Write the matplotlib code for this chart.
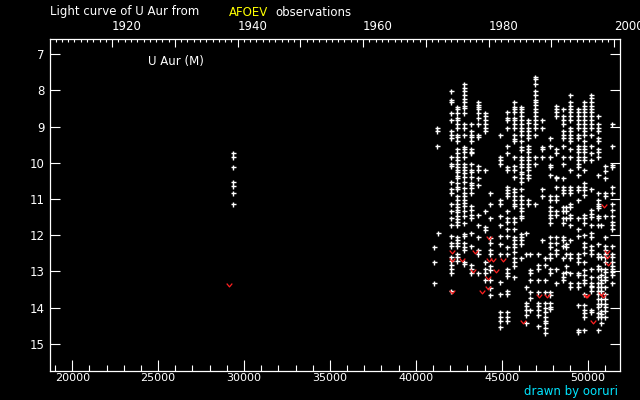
import matplotlib
matplotlib.use("Agg")
import matplotlib.pyplot as plt
from matplotlib.path import Path
from matplotlib.ticker import FixedLocator, NullFormatter

# visual estimates, JD - 2400000 : magnitudes
obs_29330 = [9.74, 9.85, 10.12, 10.54, 10.65, 10.84, 11.14]
obs_41057 = [12.33, 12.75, 13.33]
obs_41231 = [9.05, 9.12, 9.53]
obs_41290 = [11.95]
obs_42075 = [8.02, 8.26, 8.33, 8.63, 8.81, 9.12, 9.23, 9.31, 9.85, 10.04, 10.10, 10.54, 10.72, 10.84,
             11.14, 11.32, 11.52, 11.72, 12.03, 12.22, 12.31, 12.61, 12.72, 12.82, 12.94, 13.05, 13.53]
obs_42424 = [8.45, 8.51, 8.63, 8.75, 8.81, 8.92, 9.04, 9.23, 9.28, 9.41, 9.62, 9.73, 9.85, 9.92, 10.04,
             10.12, 10.2, 10.24, 10.36, 10.43, 10.55, 10.67, 10.73, 10.93, 11.02, 11.14, 11.21, 11.30,
             11.37, 11.46, 11.55, 11.64, 11.71, 12.04, 12.13, 12.22, 12.31, 12.52, 12.61, 12.72]
obs_42803 = [7.83, 7.94, 8.01, 8.12, 8.24, 8.33, 8.42, 8.49, 8.63, 8.92, 9.04, 9.23, 9.57, 9.62, 9.69,
             9.85, 10.04, 10.12, 10.2, 10.29, 10.38, 10.52, 10.70, 10.82, 10.93, 11.02, 11.10, 11.18,
             11.34, 11.46, 11.65, 11.96, 12.03, 12.22, 12.33, 12.42, 12.73, 12.79]
obs_43210 = [8.92, 9.12, 9.23, 9.30, 9.41, 9.62, 9.69, 9.73, 10.04, 10.2, 10.24, 10.38, 10.55, 10.61,
             10.70, 10.84, 11.18, 11.30, 11.44, 11.53, 11.95, 12.31, 12.82, 12.94, 13.05]
obs_43617 = [8.33, 8.40, 8.47, 8.52, 8.63, 8.75, 8.92, 9.23, 9.30, 10.10, 10.2, 10.41, 10.61, 11.44,
             11.72, 12.04, 12.42, 12.52, 13.05]
obs_43996 = [8.63, 8.72, 8.81, 8.92, 9.04, 9.12, 10.2, 11.32, 11.76, 11.85, 12.73, 12.93, 13.04, 13.23]
obs_44345 = [10.82, 11.14, 11.52, 12.08, 12.22, 12.41, 12.52, 12.85, 12.96, 13.23, 13.46, 13.65]
obs_44869 = [9.23, 9.85, 9.92, 10.04, 11.02, 11.14, 11.46, 11.72, 12.03, 12.24, 12.52, 13.28, 13.62,
             14.13, 14.25, 14.36, 14.54]
obs_45305 = [8.61, 8.75, 8.81, 9.04, 9.53, 9.73, 10.12, 10.2, 10.66, 10.75, 10.84, 10.93, 11.34, 11.52,
             11.64, 11.83, 12.03, 12.33, 12.52, 12.93, 13.04, 13.12, 13.55, 13.62, 14.13, 14.25, 14.36]
obs_45713 = [8.33, 8.45, 8.52, 8.61, 8.75, 8.83, 8.92, 9.04, 9.23, 9.35, 9.41, 9.85, 10.10, 10.2, 10.38,
             10.73, 10.80, 10.93, 11.02, 11.14, 11.18, 11.52, 11.64, 11.83, 12.04, 12.13, 12.24, 12.33,
             12.45, 12.63, 12.75, 12.84, 13.14]
obs_46120 = [8.45, 8.52, 8.61, 8.72, 8.81, 8.92, 9.04, 9.12, 9.23, 9.41, 9.55, 9.64, 9.85, 9.92, 10.04,
             10.12, 10.24, 10.31, 10.41, 10.52, 10.73, 10.93, 11.02, 11.14, 11.24, 11.34, 11.46, 11.52,
             11.96, 12.04, 12.13, 12.24, 12.64]
obs_46410 = [11.95, 12.52, 13.44, 13.88, 13.95, 14.06, 14.20, 14.43]
obs_46528 = [8.81, 8.90, 9.04, 9.12, 9.23, 9.32, 9.53, 9.62, 9.69, 9.85, 9.92, 10.04, 10.12, 10.2,
             10.34, 10.43, 11.02, 11.14]
obs_46650 = [12.52, 12.96, 13.03, 13.23, 13.56, 13.74, 14.06]
obs_46935 = [7.62, 7.69, 7.83, 8.01, 8.12, 8.26, 8.33, 8.40, 8.52, 8.61, 8.72, 8.81, 8.92, 9.04, 9.23,
             9.85, 10.04, 11.14]
obs_47110 = [12.52, 12.82, 12.94, 13.23, 13.56, 13.88, 13.95, 14.06, 14.20, 14.52]
obs_47342 = [8.81, 9.04, 9.55, 9.62, 9.85, 10.73, 10.93, 12.13]
obs_47520 = [12.64, 12.82, 13.23, 13.56, 13.88, 14.02, 14.11, 14.27, 14.36, 14.43, 14.57, 14.69]
obs_47779 = [9.32, 9.53, 9.85, 10.06, 10.12, 10.34, 10.93, 11.02, 11.21, 11.32, 11.44, 11.53, 11.65,
             12.04, 12.22, 12.33, 12.52, 12.64, 12.94, 13.03, 13.56, 13.65, 13.88, 13.97, 14.04]
obs_48186 = [8.44, 8.52, 8.61, 8.72, 9.62, 9.73, 10.38, 10.43, 10.66, 10.93, 11.02, 11.32, 11.44, 12.04,
             12.22, 12.42, 12.52, 12.94, 13.33]
obs_48593 = [8.52, 8.72, 8.81, 8.92, 9.12, 9.23, 9.32, 9.53, 9.85, 10.04, 10.43, 10.66, 10.75, 10.84,
             11.21, 11.32, 11.53, 11.65, 12.04, 12.13, 12.31, 12.64, 13.03, 13.14, 13.23]
obs_48735 = [11.23, 11.34, 11.52, 12.24, 12.33, 12.52, 12.84, 13.02]
obs_49000 = [8.12, 8.33, 8.44, 8.52, 8.61, 8.72, 8.81, 9.04, 9.13, 9.23, 9.32, 9.41, 9.62, 9.85, 10.2,
             10.66, 10.75, 10.84, 11.14, 11.23, 11.44, 11.52, 11.71, 12.13, 12.52, 12.63, 13.03, 13.33,
             13.44]
obs_49437 = [8.52, 8.61, 8.72, 8.81, 8.92, 9.04, 9.23, 9.32, 9.53, 9.62, 9.69, 9.85, 9.92, 10.04, 10.12,
             10.34, 10.66, 10.75, 11.02, 11.52, 11.83, 12.03, 12.52, 12.64, 12.75, 13.05, 13.11, 13.33,
             13.44, 13.92, 14.63, 14.66]
obs_49815 = [8.33, 8.44, 8.52, 8.61, 8.72, 8.81, 8.92, 9.04, 9.12, 9.23, 9.41, 9.53, 9.62, 9.69, 9.85,
             9.92, 10.2, 10.55, 10.66, 10.75, 10.88, 11.44, 11.53, 11.65, 11.99, 12.22, 12.33, 12.50,
             12.73, 12.96, 13.11, 13.23, 13.32, 13.62, 13.94, 14.06, 14.15, 14.25, 14.63]
obs_50194 = [8.12, 8.22, 8.33, 8.44, 8.52, 8.61, 8.72, 8.81, 8.92, 9.04, 9.23, 9.53, 9.73, 9.92, 10.73,
             11.30, 11.41, 11.50, 11.71, 11.95, 12.04, 12.31, 12.42, 12.53, 12.93, 13.14, 13.33, 13.39,
             13.44, 13.55, 14.06, 14.13]
obs_50601 = [8.72, 8.92, 9.04, 9.12, 9.32, 9.41, 9.62, 9.69, 9.85, 10.34, 10.84, 11.02, 11.14, 11.18,
             11.25, 11.46, 11.52, 11.71, 12.24, 12.52, 12.61, 12.84, 12.93, 13.14, 13.33, 13.44, 13.55,
             13.62, 13.76, 13.90, 13.97, 14.15, 14.27, 14.63]
obs_50790 = [11.71, 12.61, 12.93, 13.11, 13.23, 13.33, 13.44, 13.55, 13.76, 13.90, 14.08, 14.17, 14.25,
             14.43]
obs_51009 = [10.10, 10.22, 10.43, 10.84, 10.93, 11.46, 12.04, 12.31, 12.42, 12.52, 12.61, 12.75, 12.93,
             13.02, 13.14, 13.25, 13.44, 13.62, 13.76, 13.90, 13.97, 14.08, 14.25]
obs_51416 = [8.92, 9.53, 10.06, 10.12, 10.66, 10.84, 11.14, 11.30, 11.46, 11.64, 11.71, 11.83, 12.31,
             12.52, 12.61, 12.75, 12.84, 12.93, 13.02, 13.11, 13.33]

# "fainter than" estimates
limit_jd = [29143, 42087, 42087, 42087, 42669, 43443, 43344, 44258, 44258, 44508, 45055, 44665,
            44183, 43869, 44218, 46254, 47168, 47616, 49944, 50328, 50875, 51108, 51143, 51160, 50968,
            50790, 49880]
limit_mag = [13.37, 12.45, 12.68, 13.56, 12.68, 12.45, 12.99, 12.08, 12.68, 12.68, 12.68, 12.99,
             13.19, 13.56, 13.46, 14.39, 13.67, 13.67, 13.67, 14.39, 13.67, 12.45, 12.59, 12.79, 11.18,
             13.62, 13.67]

seasons = {29330: obs_29330, 41057: obs_41057, 41231: obs_41231, 41290: obs_41290,
           42075: obs_42075, 42424: obs_42424, 42803: obs_42803, 43210: obs_43210,
           43617: obs_43617, 43996: obs_43996, 44345: obs_44345, 44869: obs_44869,
           45305: obs_45305, 45713: obs_45713, 46120: obs_46120, 46410: obs_46410,
           46528: obs_46528, 46650: obs_46650, 46935: obs_46935, 47110: obs_47110,
           47342: obs_47342, 47520: obs_47520, 47779: obs_47779, 48186: obs_48186,
           48593: obs_48593, 48735: obs_48735, 49000: obs_49000, 49437: obs_49437,
           49815: obs_49815, 50194: obs_50194, 50601: obs_50601, 50790: obs_50790,
           51009: obs_51009, 51416: obs_51416}

year_labels = [1920, 1940, 1960, 1980, 2000]


def year_to_jd(year):
    return 51544.5 + (year - 2000) * 365.25


fig = plt.figure(figsize=(6.4, 4.0), dpi=100, facecolor="black")
ax = fig.add_axes([50 / 640, 29 / 400, 570 / 640, 332 / 400], facecolor="black")

jd = [j for j, mags in seasons.items() for _ in mags]
mag = [m for mags in seasons.values() for m in mags]
ax.plot(jd, mag, "+", color="white", ms=3.6, mew=1.0, ls="none")

vee = Path([(-1.0, 0.7), (0.0, -0.5), (1.0, 0.7)], [Path.MOVETO, Path.LINETO, Path.LINETO])
ax.plot(limit_jd, limit_mag, ls="none", marker=vee, ms=4, mfc="none", mec="#ff2020", mew=0.9)

ax.set_xlim(18708, 51882)
ax.set_ylim(15.75, 6.58)

for s in ax.spines.values():
    s.set_color("white")
    s.set_linewidth(0.9)

ax.set_xticks(range(20000, 51000, 5000))
ax.set_xticks(range(19000, 52000, 1000), minor=True)
ax.set_yticks(range(7, 16))
ax.tick_params(axis="x", which="major", direction="in", length=8, width=0.8, color="white",
               labelcolor="white", labelsize=8, pad=1.5)
ax.tick_params(axis="x", which="minor", direction="in", length=4, width=0.8, color="white")
ax.tick_params(axis="y", which="both", direction="in", length=7.5, width=0.8, color="white",
               labelcolor="white", labelsize=8.5, right=True, pad=4)

ax_top = ax.twiny()
ax_top.set_xlim(ax.get_xlim())
decades = list(range(1910, 2001, 10))
ax_top.xaxis.set_major_locator(FixedLocator([year_to_jd(y) for y in decades]))
ax_top.set_xticklabels([str(y) if y in year_labels else "" for y in decades], ha="left")
ax_top.xaxis.set_minor_locator(FixedLocator([year_to_jd(y) for y in range(1911, 2002)]))
ax_top.xaxis.set_minor_formatter(NullFormatter())
ax_top.tick_params(axis="x", which="major", direction="in", length=6, width=0.8, color="white",
                   labelcolor="white", labelsize=8.5, pad=4)
ax_top.tick_params(axis="x", which="minor", direction="in", length=2.5, width=0.8, color="white")
for s in ax_top.spines.values():
    s.set_visible(False)

ax.text(148 / 640, 1 - 62 / 400, "U Aur (M)", transform=fig.transFigure, color="white",
        fontsize=8.5, va="center")

fig.text(50 / 640, 1 - 12 / 400, "Light curve of U Aur from", color="white", fontsize=8.5,
         va="center")
fig.text(229 / 640, 1 - 12 / 400, "AFOEV", color="#ffff00", fontsize=8.5, va="center")
fig.text(275 / 640, 1 - 12 / 400, "observations", color="white", fontsize=8.5, va="center")
fig.text(618 / 640, 1 - 392 / 400, "drawn by ooruri", color="#00e5ff", fontsize=8.5,
         ha="right", va="center")

fig.savefig("out.png", dpi=100, facecolor="black")
